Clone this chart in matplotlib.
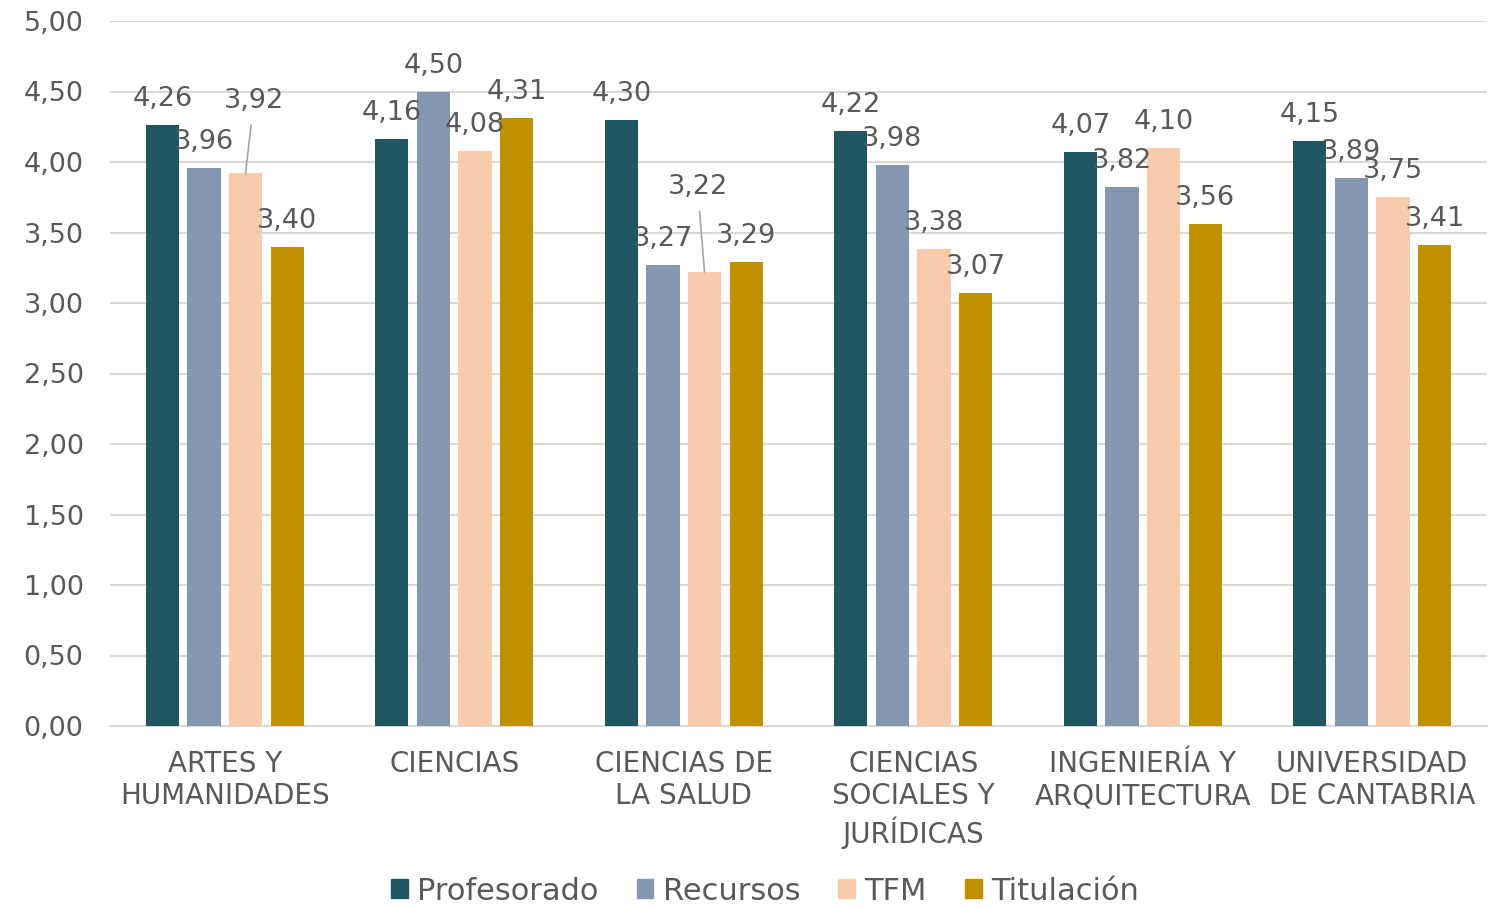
import matplotlib.pyplot as plt
import numpy as np
from matplotlib.patches import Patch

categories = ["ARTES Y\nHUMANIDADES", "CIENCIAS", "CIENCIAS DE\nLA SALUD",
              "CIENCIAS\nSOCIALES Y\nJURÍDICAS", "INGENIERÍA Y\nARQUITECTURA",
              "UNIVERSIDAD\nDE CANTABRIA"]
series = ["Profesorado", "Recursos", "TFM", "Titulación"]
profesorado = [4.26, 4.16, 4.30, 4.22, 4.07, 4.15]
recursos = [3.96, 4.50, 3.27, 3.98, 3.82, 3.89]
tfm = [3.92, 4.08, 3.22, 3.38, 4.10, 3.75]
titulacion = [3.40, 4.31, 3.29, 3.07, 3.56, 3.41]
yticks = [0, 0.5, 1, 1.5, 2, 2.5, 3, 3.5, 4, 4.5, 5]

values = [profesorado, recursos, tfm, titulacion]
colors = ["#1F5664", "#8497B0", "#F8CBAD", "#BF9000"]
txt = "#595959"

# labels moved away from the bar (series, category) -> offset in points
moved = {(2, 0): (6, 52), (2, 2): (-5, 61)}

def fmt(v):
    return f"{v:.2f}".replace(".", ",")

fig = plt.figure(figsize=(14.96, 9.08), dpi=100)
ax = fig.add_axes([110/1496, 182/908, 1377/1496, 705/908])

x = np.arange(len(categories))
pitch = 0.181
width = 0.144
for i, (vals, col) in enumerate(zip(values, colors)):
    pos = x + (i - 1.5) * pitch
    ax.bar(pos, vals, width, color=col, zorder=3)
    for j, (p, v) in enumerate(zip(pos, vals)):
        if (i, j) in moved:
            dx, dy = moved[(i, j)]
            ax.annotate(fmt(v), (p, v), xytext=(dx, dy), textcoords="offset points",
                        ha="center", va="center", fontsize=19.5, color=txt, zorder=4,
                        arrowprops=dict(arrowstyle="-", color="#A6A6A6", lw=1.2,
                                        shrinkA=6, shrinkB=0))
        else:
            ax.annotate(fmt(v), (p, v), xytext=(0, 18.7), textcoords="offset points",
                        ha="center", va="center", fontsize=19.5, color=txt, zorder=4)

ax.set_xlim(-0.5, len(categories) - 0.5)
ax.set_ylim(0, 5)
ax.set_yticks(yticks)
ax.set_yticklabels([fmt(t) for t in yticks])
ax.set_xticks(x)
ax.set_xticklabels(categories, linespacing=1.22)
ax.tick_params(axis="y", length=0, pad=19, labelsize=19.5, labelcolor=txt)
ax.tick_params(axis="x", length=0, pad=17, labelsize=20, labelcolor=txt)
ax.grid(axis="y", color="#D9D9D9", lw=1.5, zorder=0)
for s in ["top", "right", "left"]:
    ax.spines[s].set_visible(False)
ax.spines["bottom"].set_color("#D9D9D9")
ax.spines["bottom"].set_linewidth(1.5)

handles = [Patch(color=c, label=s) for c, s in zip(colors, series)]
fig.legend(handles=handles, loc="center", bbox_to_anchor=(765/1496, 1 - 891/908),
           ncol=4, frameon=False, fontsize=22, labelcolor=txt,
           handlelength=0.55, handleheight=0.55, handletextpad=0.3, columnspacing=1.25)

fig.savefig("out.png", dpi=100)
